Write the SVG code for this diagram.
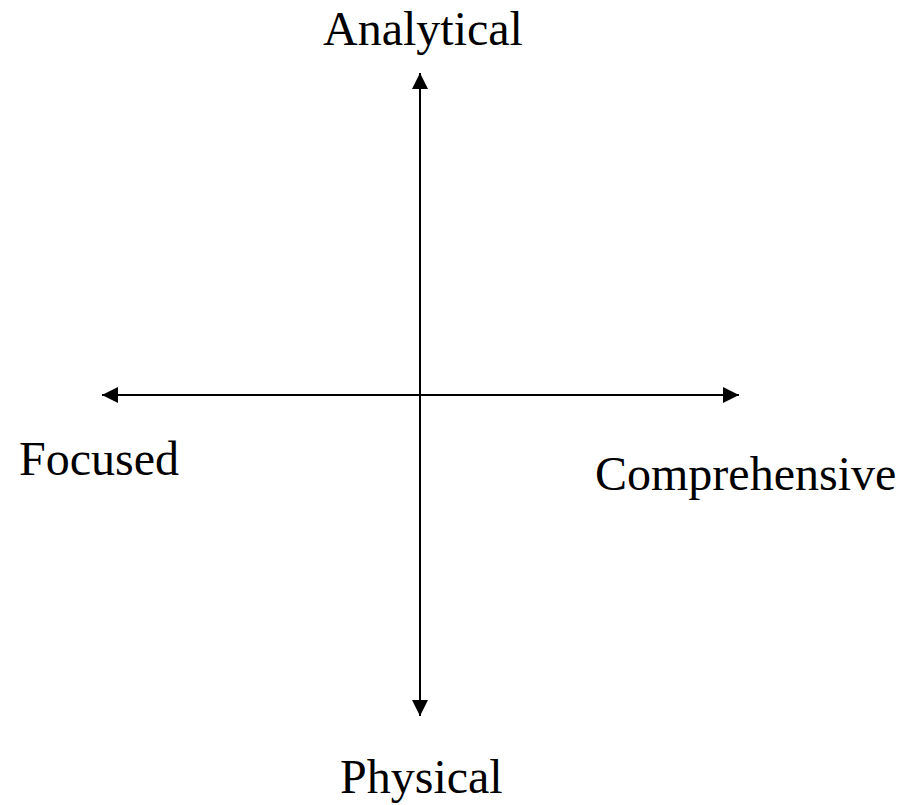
<svg xmlns="http://www.w3.org/2000/svg" width="915" height="805" viewBox="0 0 915 805">
<style>
text{font-family:"Liberation Serif","Times New Roman",serif;font-size:48px;fill:#000}
.ax{stroke:#000;stroke-width:2;fill:none}
</style>
<defs>
<marker id="ah" viewBox="0 0 16 16" refX="16" refY="8" markerWidth="16" markerHeight="16" markerUnits="userSpaceOnUse" orient="auto-start-reverse">
<path d="M0,0 L16,8 L0,16 Z" fill="#000"/>
</marker>
</defs>
<rect width="915" height="805" fill="#fff"/>
<g id="connectors">
<line class="ax" x1="420" y1="73" x2="420" y2="716" marker-start="url(#ah)" marker-end="url(#ah)"/>
<line class="ax" x1="102" y1="395" x2="739" y2="395" marker-start="url(#ah)" marker-end="url(#ah)"/>
</g>
<g id="analytical"><text x="323" y="45">Analytical</text></g>
<g id="focused"><text x="19" y="475">Focused</text></g>
<g id="comprehensive"><text x="595" y="490">Comprehensive</text></g>
<g id="physical"><text x="340" y="793">Physical</text></g>
</svg>
